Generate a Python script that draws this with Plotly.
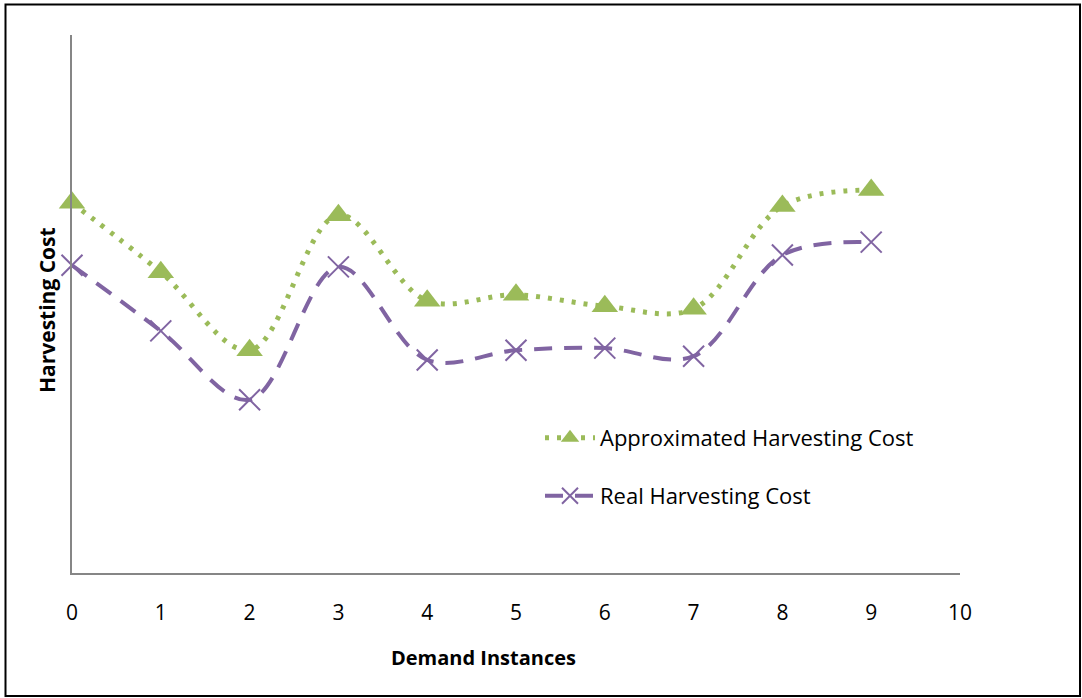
import plotly.graph_objects as go

# Demand instance index on the x axis
instances = [0, 1, 2, 3, 4, 5, 6, 7, 8, 9]
# Harvesting cost per instance (relative units)
approx_cost = [68.8, 55.9, 41.4, 66.5, 50.6, 51.7, 49.6, 49.1, 68.2, 71.2]
real_cost = [57.2, 45.0, 32.2, 56.9, 39.6, 41.4, 41.8, 40.3, 59.1, 61.5]
x_ticks = [0, 1, 2, 3, 4, 5, 6, 7, 8, 9, 10]

GREEN = "#9BBB59"
PURPLE = "#8064A2"
AXIS = "#868686"
FONT = "'Open Sans', Lato, sans-serif"

W, H = 1082, 698
L, R, T, B = 72, 122, 35, 125
PW, PH = W - L - R, H - T - B


def px_x(p):
    return (p - L) / PW


def px_y(p):
    return (H - B - p) / PH


fig = go.Figure()
fig.add_trace(go.Scatter(
    x=instances, y=approx_cost, name="Approximated Harvesting Cost",
    mode="lines+markers", line=dict(color=GREEN, width=5, dash="4px,8px", shape="spline", smoothing=1),
    marker=dict(symbol="triangle-up", size=23, color=GREEN),
    cliponaxis=False, legend="legend",
))
fig.add_trace(go.Scatter(
    x=instances, y=real_cost, name="Real Harvesting Cost",
    mode="lines+markers", line=dict(color=PURPLE, width=4, dash="18px,12px", shape="spline", smoothing=1),
    marker=dict(symbol="x-thin-open", size=21, color=PURPLE, line=dict(color=PURPLE, width=2)),
    cliponaxis=False, legend="legend2",
))

fig.update_layout(
    width=W, height=H,
    margin=dict(l=L, r=R, t=T, b=B),
    paper_bgcolor="white", plot_bgcolor="white",
    font=dict(family=FONT, size=20, color="black"),
    xaxis=dict(range=[0, 10], tickvals=x_ticks, ticktext=[str(v) for v in x_ticks],
               showgrid=False, zeroline=False, showline=True, linecolor=AXIS, linewidth=1.5,
               ticks="", ticklabelstandoff=20, tickfont=dict(size=21, family=FONT)),
    yaxis=dict(range=[0, 100], showgrid=False, zeroline=False, showline=True,
               linecolor=AXIS, linewidth=1.5, showticklabels=False, ticks=""),
    legend=dict(x=px_x(540), y=px_y(438), xanchor="left", yanchor="middle",
                bgcolor="rgba(0,0,0,0)", font=dict(size=22, family=FONT), itemwidth=50),
    legend2=dict(x=px_x(540), y=px_y(496), xanchor="left", yanchor="middle",
                 bgcolor="rgba(0,0,0,0)", font=dict(size=22, family=FONT), itemwidth=50),
    showlegend=True,
)

fig.add_annotation(text="<b>Demand Instances</b>", xref="paper", yref="paper",
                   x=px_x(483), y=px_y(657), xanchor="center", yanchor="middle",
                   showarrow=False, font=dict(size=20, family=FONT))
fig.add_annotation(text="<b>Harvesting Cost</b>", xref="paper", yref="paper", textangle=-90,
                   x=px_x(47), y=px_y(310), xanchor="center", yanchor="middle",
                   showarrow=False, font=dict(size=21, family=FONT))

# Outer frame around the chart
fig.add_shape(type="rect", xref="paper", yref="paper",
              x0=px_x(5.5), x1=px_x(1080), y0=px_y(696), y1=px_y(4.5),
              line=dict(color="black", width=2), fillcolor="rgba(0,0,0,0)", layer="below")

fig.write_html("out.html")
